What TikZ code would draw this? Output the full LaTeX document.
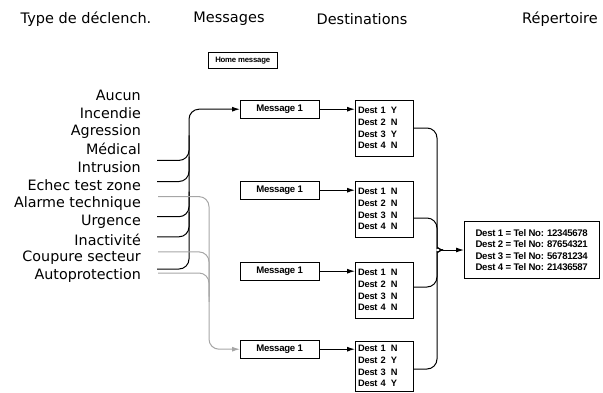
\documentclass[tikz,border=0pt]{standalone}
\usepackage{fontspec}
\setmainfont{DejaVu Sans}
\newfontfamily\boxfont[LetterSpace=-3]{Liberation Sans}
\usetikzlibrary{arrows.meta, positioning, calc}

\tikzset{
	header/.style={font=\fontsize{14.5}{17}\selectfont, inner sep=0pt},
	trigger/.style={font=\fontsize{14.3}{17}\selectfont, anchor=east, inner sep=0pt},
	msgbox/.style={draw, anchor=north west, minimum width=79pt, minimum height=18pt,
		inner sep=0pt, font=\boxfont\bfseries\fontsize{9.6}{10}\selectfont},
	destbox/.style={draw, anchor=north west, minimum width=58pt, minimum height=56pt,
		align=left, text width=52pt, inner xsep=3pt, inner ysep=2.5pt,
		font=\boxfont\bfseries\fontsize{9.3}{11.6}\selectfont},
	repbox/.style={draw, anchor=west, minimum width=135pt, minimum height=57pt,
		align=left, font=\boxfont\bfseries\fontsize{9.6}{11.2}\selectfont},
	wire/.style={line width=1pt, rounded corners=10pt},
	greywire/.style={wire, draw=black!35},
	tip/.style={-{Latex[length=8pt,width=5pt]}},
}

\newcommand{\destrows}[4]{%
	Dest 1\hspace{5pt}#1\\Dest 2\hspace{5pt}#2\\Dest 3\hspace{5pt}#3\\Dest 4\hspace{5pt}#4}

\begin{document}
\begin{tikzpicture}[x=1pt, y=-1pt]
	% Parameters
	\def\labelx{141}
	\def\trunkA{189}
	\def\trunkB{209}
	\def\trunkC{437}

	\useasboundingbox (0,0) rectangle (603,392);

	% Column headers
	\node[header] (hType) at (86,19) {Type de déclench.};
	\node[header] (hMsg) at (229,19) {Messages};
	\node[header] (hDest) at (362,19) {Destinations};
	\node[header] (hRep) at (560,19) {Répertoire};

	% Home message
	\node[msgbox, minimum width=69pt, minimum height=16pt,
		font=\boxfont\bfseries\fontsize{7.8}{9}\selectfont] (home) at (208,52) {Home message};

	% Trigger types
	\foreach \i/\t in {0/Aucun, 1/Incendie, 2/Agression, 3/Médical, 4/Intrusion,
		5/Echec test zone, 6/Alarme technique, 7/Urgence, 8/Inactivité,
		9/Coupure secteur, 10/Autoprotection}
		\node[trigger] (t\i) at (\labelx, 95+18.1*\i) {\t};

	% Messages and destinations
	\foreach \i/\y in {1/100, 2/181, 3/262} {
		\node[msgbox] (m\i) at (240,\y) {Message 1};
		\node[destbox] (d\i) at (355,\y) {};
		\draw[line width=1pt, tip] (m\i.east) -- (m\i.east -| d\i.west);
	}
	\node[destbox] at (d1.north west) {\destrows{Y}{N}{Y}{N}};
	\node[destbox] at (d2.north west) {\destrows{N}{N}{N}{N}};
	\node[destbox] at (d3.north west) {\destrows{N}{N}{N}{N}};
	\node[msgbox] (m4) at (240,340) {Message 1};
	\node[destbox, minimum height=50pt] (d4) at (355,341) {\destrows{N}{Y}{N}{Y}};
	\draw[line width=1pt, tip] (m4.east) -- (m4.east -| d4.west);

	% Phone book
	\node[repbox] (rep) at (464,250) {Dest 1 = Tel No: 12345678\\Dest 2 = Tel No: 87654321\\
		Dest 3 = Tel No: 56781234\\Dest 4 = Tel No: 21436587};

	% Trunks
	\coordinate (tA) at (\trunkA,0);
	\coordinate (tB) at (\trunkB,0);
	\coordinate (J) at (443,250);

	% Black triggers into first message
	\foreach \i/\dy in {4/-7, 5/-4, 7/-5, 8/-3} {
		\coordinate (b\i) at ($(t\i.east)+(16,\dy)$);
		\draw[wire] (b\i) -- (b\i -| tA) -- ++(0,-25);
	}
	\coordinate (b10) at ($(t10.east)+(16,-7)$);
	\draw[wire, tip] (b10) -- (b10 -| tA) -- (tA |- m1.west) -- (m1.west);

	% Grey triggers into last message
	\foreach \i/\dy/\len in {6/-7/100, 9/-6/50} {
		\coordinate (g\i) at ($(t\i.east)+(17,\dy)$);
		\draw[greywire] (g\i) -- (g\i -| tB) -- ++(0,\len);
	}
	\coordinate (g10) at ($(t10.east)+(17,-3)$);
	\draw[greywire, tip] (g10) -- (g10 -| tB) -- (tB |- m4.west) -- (m4.west);

	% Destinations into phone book
	\draw[wire] ($(d1.north east)+(0,28)$) -- (\trunkC,128) -- (\trunkC,238)
		.. controls (\trunkC,246) and (439,250) .. (J);
	\draw[wire] ($(d2.north east)+(0,37)$) -- (\trunkC,218) -- (\trunkC,238)
		.. controls (\trunkC,246) and (439,250) .. (J);
	\draw[wire] ($(d3.north east)+(0,25)$) -- (\trunkC,287) -- (\trunkC,262)
		.. controls (\trunkC,254) and (439,250) .. (J);
	\draw[wire] ($(d4.north east)+(0,28)$) -- (\trunkC,369) -- (\trunkC,262)
		.. controls (\trunkC,254) and (439,250) .. (J);
	\draw[line width=1pt, tip] (J) -- (rep.west);

\end{tikzpicture}
\end{document}
